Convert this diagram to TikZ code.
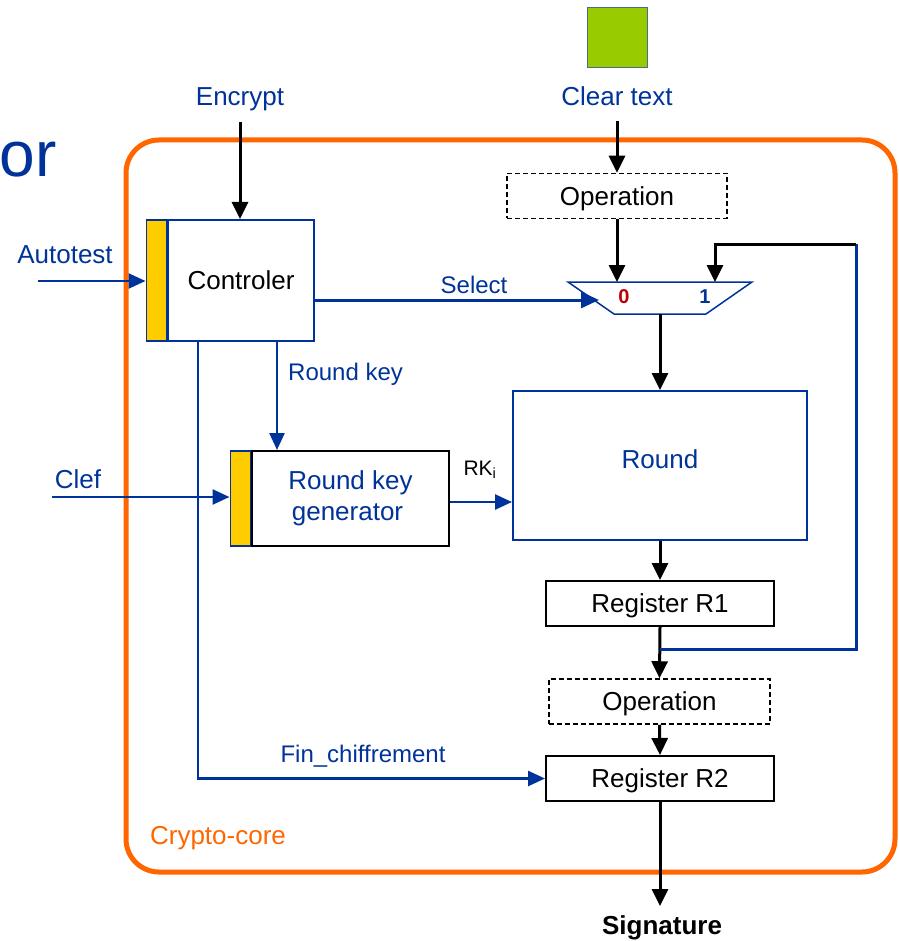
\documentclass[tikz,border=0pt]{standalone}
\usepackage{fontspec}
\setmainfont{Liberation Sans}
\usetikzlibrary{arrows.meta,calc}
\definecolor{ink}{HTML}{003399}
\definecolor{coreorange}{HTML}{FF6600}
\definecolor{baryellow}{HTML}{FFCC00}
\definecolor{leafgreen}{HTML}{99CC00}
\definecolor{greenedge}{HTML}{4A6D8C}
\definecolor{zerored}{HTML}{C00000}
\tikzset{
  txt/.style={inner sep=0pt, font=\fontsize{26}{31}\selectfont},
  smalltxt/.style={inner sep=0pt, font=\fontsize{24}{29}\selectfont, text=ink},
  boxfont/.style={font=\fontsize{26}{31}\selectfont, text height=18.6pt, text depth=0pt},
  blkarrow/.style={draw=black, line width=3pt, -{Triangle[length=17pt,width=16pt]}},
  bluearrow/.style={draw=ink, line width=2.5pt, -{Triangle[length=17pt,width=15pt]}},
  regbox/.style={boxfont, draw=black, line width=2pt, fill=white, inner sep=0pt,
    minimum width=228pt, minimum height=45pt},
  opbox/.style={boxfont, draw=black, line width=1.5pt, dash pattern=on 5pt off 3pt, fill=white,
    inner sep=0pt, minimum height=45pt},
  barbox/.style={fill=baryellow, draw=ink, line width=1.5pt, inner sep=0pt, minimum width=20pt}
}
\begin{document}
\begin{tikzpicture}[x=1pt,y=-1pt]
\useasboundingbox (0,0) rectangle (898,941);

% title fragment at the left edge
\node[inner sep=0pt, anchor=base east, text=ink, font=\fontsize{64}{76}\selectfont] (title) at (57,177) {or};

% crypto-core frame
\draw[coreorange, line width=5pt, rounded corners=33pt] (126,140) rectangle (895,872);
\node[txt, text=coreorange] (corelbl) at (218,838) {Crypto-core};

% clear text input
\node[draw=greenedge, line width=1pt, fill=leafgreen, minimum width=60pt, minimum height=60pt, inner sep=0pt] (plain) at (617,38) {};
\node[txt, text=ink] (cleartxt) at (617,96) {Clear text};
\coordinate (clearout) at (617,121);

% controller
\node[boxfont, draw=ink, line width=2pt, fill=white, minimum width=146pt, minimum height=121pt, inner sep=0pt] (ctrl) at (241,280.5) {Controler};
\node[barbox, minimum height=121pt, anchor=east] (ctrlbar) at (ctrl.west) {};

\node[txt, text=ink] (enc) at (240,99) {Encrypt};
\coordinate (encout) at (240,122);
\node[txt, text=ink] (auto) at (65,255) {Autotest};
\coordinate (autoin) at (38,281);

% round key generator
\node[draw=black, line width=2pt, fill=white, minimum width=197pt, minimum height=95pt, inner sep=0pt,
      text=ink, align=center, font=\fontsize{26}{31}\selectfont] (rkg) at (350.5,498.5) {Round key\\generator\hspace*{6pt}};
\node[barbox, minimum height=95pt, anchor=east] (rkgbar) at (rkg.west) {};
\node[txt, text=ink] (clef) at (78,479) {Clef};
\coordinate (clefin) at (52,497);

% data path
\node[opbox, minimum width=220pt] (op1) at (617,196) {Operation};

% multiplexer
\coordinate (muxtl) at (568,282);
\coordinate (muxtr) at (752,282);
\coordinate (muxbr) at (706,314);
\coordinate (muxbl) at (614,314);
\draw[ink, line width=1.5pt, fill=white, line join=miter] (muxtl) -- (muxtr) -- (muxbr) -- (muxbl) -- cycle;
\coordinate (mux0) at (617,282);
\coordinate (mux1) at (715,282);
\coordinate (muxsel) at (599,300);
\coordinate (muxout) at (660,314);
\node[inner sep=0pt, text=zerored, font=\fontsize{20}{24}\selectfont\bfseries] (zero) at (624,297) {0};
\node[inner sep=0pt, text=ink, font=\fontsize{20}{24}\selectfont\bfseries] (one) at (705,297) {1};

\node[draw=ink, line width=2pt, fill=white, minimum width=294pt, minimum height=149pt, inner sep=0pt] (round) at (660,465.5) {};
\node[txt] (roundtxt) at (660,459) {\textcolor{ink}{Round}};

\node[regbox] (r1) at (660,603.5) {Register R1};
\node[opbox, minimum width=221pt] (op2) at (659.5,701.5) {Operation};
\node[regbox] (r2) at (660,778.5) {Register R2};

\node[inner sep=0pt, font=\fontsize{26}{31}\selectfont\bfseries] (sig) at (662,928) {Signature};
\coordinate (sigin) at (660,906);

% feedback loop from R1 back to mux input 1
\coordinate (fbtap) at (660,649);
\coordinate (fbcorner) at (856,649);
\coordinate (fbtop) at (856,244);

% connectors
\draw[blkarrow] (clearout) -- (op1.north);
\draw[blkarrow] (op1.south) -- (mux0);
\draw[blkarrow] (encout) -- (ctrl.north -| encout);
\draw[bluearrow] (autoin) -- (autoin -| ctrlbar.west);
\draw[ink, line width=3pt, -{Triangle[length=18pt,width=16pt]}] ([yshift=-19.5pt]ctrl.east) -- (muxsel);
\node[smalltxt] (sellbl) at (474,285) {Select};

\draw[bluearrow] ([xshift=36pt]ctrl.south) -- ([xshift=36pt]ctrl.south |- rkg.north);
\node[smalltxt, anchor=west] (rklbl) at (288,374) {Round key};
\draw[bluearrow] (clefin) -- (clefin -| rkgbar.west);
\draw[bluearrow] ([yshift=-3.5pt]rkg.east) -- ([yshift=-3.5pt]rkg.east -| round.west);
\node[inner sep=0pt, font=\fontsize{21}{25}\selectfont] (rklabel) at (480,470) {RK\textsubscript{i}};

\draw[bluearrow] ([xshift=-43pt]ctrl.south) |- (r2.west);
\node[smalltxt] (finlbl) at (363,756) {Fin\_chiffrement};

\draw[blkarrow] (muxout) -- (round.north);
\draw[blkarrow] (round.south) -- (r1.north);
\draw[blkarrow] (r1.south) -- (op2.north);
\draw[blkarrow] (op2.south) -- (r2.north);
\draw[blkarrow] (r2.south) -- (sigin);

\draw[ink, line width=3pt, line join=miter] (fbtap) -- (fbcorner) -- (fbtop);
\draw[blkarrow, line join=miter] (fbtop) -- (fbtop -| mux1) -- (mux1);
\end{tikzpicture}
\end{document}
